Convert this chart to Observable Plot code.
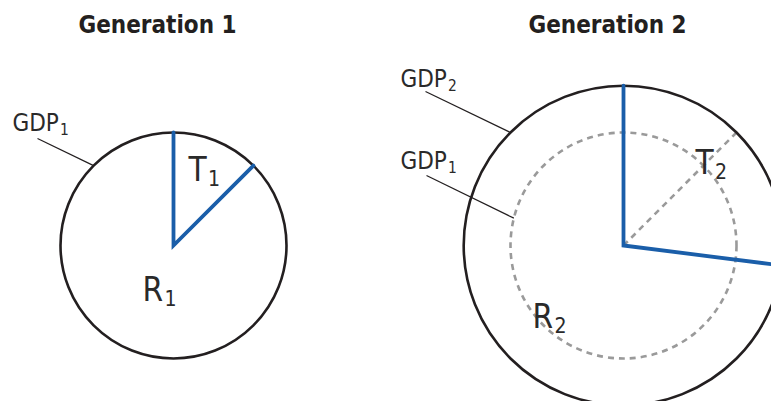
<!DOCTYPE html>
<html>
<head>
<meta charset="utf-8">
<script src="https://cdn.jsdelivr.net/npm/d3@7"></script>
<script src="https://cdn.jsdelivr.net/npm/@observablehq/plot@0.6"></script>
<style>
  html, body { margin: 0; padding: 0; background: #fff; overflow: hidden; }
  #chart svg { display: block; }
</style>
</head>
<body>
<div id="chart"></div>
<script>
// ---- data ----
const generations = ["Generation 1", "Generation 2"];
const gdp = [1, 2];                 // relative GDP (circle area)
const taxShare = [0.125, 0.27];     // share of GDP taken in taxes (wedge T)
const gdpLabels = [["GDP|1"], ["GDP|2", "GDP|1"]];
const taxLabels = ["T|1", "T|2"];
const restLabels = ["R|1", "R|2"];

// ---- layout (pixel placement only) ----
const layout = {
  width: 771, height: 401,
  cx: [173, 623], cy: 245,
  unitRadius: 113,
  titleDx: -16, titleY: 32,
  taxLabelOffset: [[15, -65], [72, -72]],
  restLabelOffset: [[-31, 55], [-91, 82]],
  gdpLabelOffset: [[[-161, -115]], [[-223, -159], [-223, -77]]],
  leaderStart: [[[-136, -107]], [[-198, -154], [-197, -70]]],
  leaderAngle: [[315], [315, 284]],
  leaderGdp: [[0], [1, 0]]
};

const FONT = "'DejaVu Sans Condensed', 'DejaVu Sans', sans-serif";
const R = g => layout.unitRadius * Math.sqrt(g);
const polar = (i, g, deg) => ({
  x: layout.cx[i] + R(g) * Math.sin(deg * Math.PI / 180),
  y: layout.cy - R(g) * Math.cos(deg * Math.PI / 180)
});

const circles = generations.map((name, i) => ({name, gdp: gdp[i], x: layout.cx[i], y: layout.cy}));
const prevCircle = [{gdp: gdp[0], x: layout.cx[1], y: layout.cy}];
const prevEnd = polar(1, gdp[1], taxShare[0] * 360);
const prevSpoke = [{x1: layout.cx[1], y1: layout.cy, x2: prevEnd.x, y2: prevEnd.y}];

const wedge = [];
generations.forEach((name, i) => {
  const a = polar(i, gdp[i], 0), b = polar(i, gdp[i], taxShare[i] * 360);
  wedge.push({name, x: a.x, y: a.y}, {name, x: layout.cx[i], y: layout.cy}, {name, x: b.x, y: b.y});
});

const leaders = [];
const gdpTexts = [];
generations.forEach((name, i) => {
  gdpLabels[i].forEach((lab, j) => {
    const s = layout.leaderStart[i][j];
    const e = polar(i, gdp[layout.leaderGdp[i][j]], layout.leaderAngle[i][j]);
    leaders.push({x1: layout.cx[i] + s[0], y1: layout.cy + s[1], x2: e.x, y2: e.y});
    const o = layout.gdpLabelOffset[i][j];
    gdpTexts.push({text: lab, x: layout.cx[i] + o[0], y: layout.cy + o[1]});
  });
});
const sliceTexts = [];
generations.forEach((name, i) => {
  const t = layout.taxLabelOffset[i], r = layout.restLabelOffset[i];
  sliceTexts.push({text: taxLabels[i], x: layout.cx[i] + t[0], y: layout.cy + t[1]});
  sliceTexts.push({text: restLabels[i], x: layout.cx[i] + r[0], y: layout.cy + r[1]});
});
const titles = generations.map((name, i) => ({text: name, x: layout.cx[i] + layout.titleDx, y: layout.titleY}));

const plot = Plot.plot({
  width: layout.width,
  height: layout.height,
  margin: 0,
  style: {background: "#fff", overflow: "hidden"},
  x: {type: "identity", axis: null},
  y: {type: "identity", axis: null},
  r: {type: "sqrt", domain: [0, 2], range: [0, R(2)]},
  marks: [
    Plot.dot(prevCircle, {x: "x", y: "y", r: "gdp", stroke: "#9a9a9a", strokeWidth: 2.6, strokeDasharray: "6,5", fill: "none"}),
    Plot.link(prevSpoke, {x1: "x1", y1: "y1", x2: "x2", y2: "y2", stroke: "#9a9a9a", strokeWidth: 2.6, strokeDasharray: "6,5"}),
    Plot.dot(circles, {x: "x", y: "y", r: "gdp", stroke: "#231f20", strokeWidth: 2.6, fill: "none"}),
    Plot.line(wedge, {x: "x", y: "y", z: "name", stroke: "#1a5ea9", strokeWidth: 3.8, strokeLinejoin: "miter", strokeMiterlimit: 10, curve: "linear"}),
    Plot.link(leaders, {x1: "x1", y1: "y1", x2: "x2", y2: "y2", stroke: "#231f20", strokeWidth: 1.2}),
    Plot.text(gdpTexts, {x: "x", y: "y", text: "text", textAnchor: "start", lineAnchor: "bottom", fontSize: 24, fill: "#2a2a2a", fontFamily: FONT}),
    Plot.text(sliceTexts, {x: "x", y: "y", text: "text", textAnchor: "start", lineAnchor: "bottom", fontSize: 33, fill: "#2a2a2a", fontFamily: FONT}),
    Plot.text(titles, {x: "x", y: "y", text: "text", textAnchor: "middle", lineAnchor: "bottom", fontSize: 24, fontWeight: "bold", fill: "#231f20", fontFamily: FONT})
  ]
});

// turn "X|n" labels into X with a subscript n
plot.querySelectorAll("text").forEach(t => {
  const s = t.textContent;
  if (!s.includes("|")) return;
  const [main, sub] = s.split("|");
  const fs = parseFloat(t.getAttribute("font-size") || t.parentNode.getAttribute("font-size") || 25);
  while (t.firstChild) t.removeChild(t.firstChild);
  t.appendChild(document.createTextNode(main));
  const ts = document.createElementNS("http://www.w3.org/2000/svg", "tspan");
  ts.setAttribute("font-size", (fs * 0.64).toFixed(1));
  ts.setAttribute("dx", (fs * 0.04).toFixed(1));
  ts.setAttribute("dy", (fs * 0.17).toFixed(1));
  ts.textContent = sub;
  t.appendChild(ts);
});

document.getElementById("chart").appendChild(plot);
</script>
</body>
</html>
